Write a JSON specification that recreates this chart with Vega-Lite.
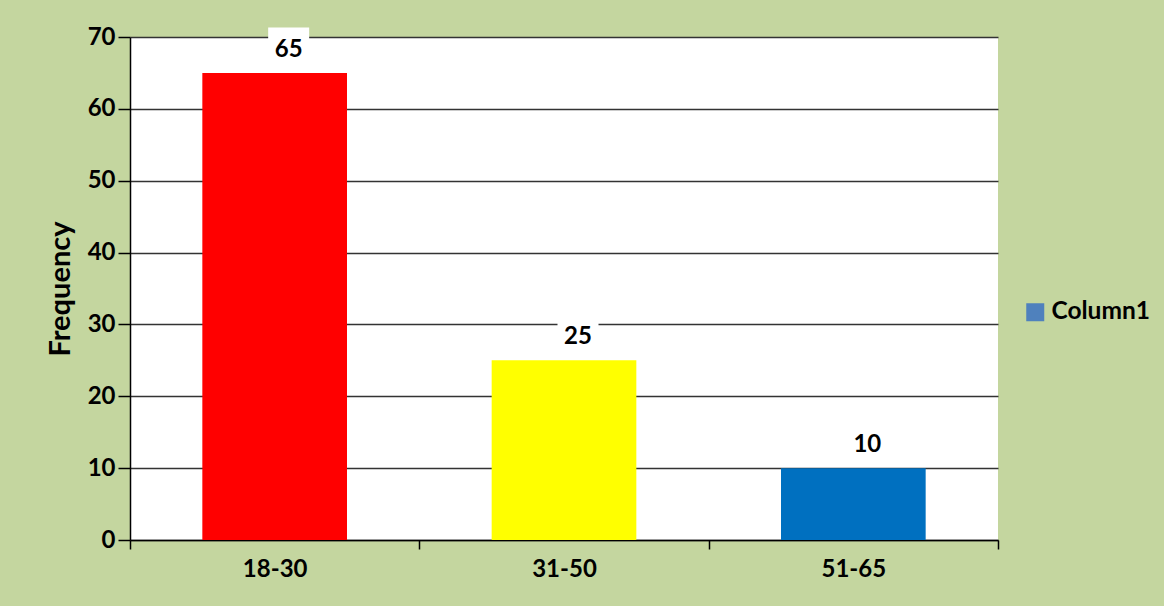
{
  "$schema": "https://vega.github.io/schema/vega-lite/v6.json",
  "autosize": "none",
  "width": 868,
  "height": 503,
  "padding": {"left": 130, "top": 37, "right": 166, "bottom": 66},
  "background": "#c4d69f",
  "config": {
    "view": {"fill": "#ffffff", "stroke": null},
    "font": "Lato"
  },
  "data": {
    "values": [
      {"age": "18-30", "frequency": 65, "series": "Column1"},
      {"age": "31-50", "frequency": 25, "series": "Column1"},
      {"age": "51-65", "frequency": 10, "series": "Column1"}
    ]
  },
  "encoding": {
    "x": {
      "field": "age",
      "type": "nominal",
      "sort": null,
      "scale": {"paddingInner": 0, "paddingOuter": 0},
      "axis": {
        "title": null,
        "labelAngle": 0,
        "labelFont": "Lato",
        "labelFontSize": 24,
        "labelFontWeight": "bold",
        "labelColor": "#000000",
        "labelPadding": 8,
        "tickBand": "extent",
        "tickSize": 9,
        "tickColor": "#000000",
        "tickWidth": 1.5,
        "domainColor": "#000000",
        "domainWidth": 1.5,
        "grid": false
      }
    }
  },
  "layer": [
    {
      "mark": {"type": "bar", "width": {"band": 0.5}},
      "encoding": {
        "y": {
          "field": "frequency",
          "type": "quantitative",
          "scale": {"domain": [0, 70]},
          "axis": {
            "title": "Frequency",
            "titleFont": "Lato",
            "titleFontSize": 29,
            "titleFontWeight": "bold",
            "titleColor": "#000000",
            "titlePadding": 12,
            "values": [0, 10, 20, 30, 40, 50, 60, 70],
            "labelFont": "Lato",
            "labelFontSize": 24,
            "labelFontWeight": "bold",
            "labelColor": "#000000",
            "labelPadding": 3,
            "tickSize": 12,
            "tickColor": "#000000",
            "tickWidth": 1.5,
            "domainColor": "#000000",
            "domainWidth": 1.5,
            "grid": true,
            "gridColor": "#333333",
            "gridWidth": 1.5
          }
        },
        "color": {
          "field": "age",
          "type": "nominal",
          "scale": {"domain": ["18-30", "31-50", "51-65"], "range": ["#ff0000", "#ffff00", "#0070c0"]},
          "legend": null
        }
      }
    },
    {
      "mark": {"type": "bar", "width": {"band": 0.5}, "strokeWidth": 0},
      "encoding": {
        "y": {"datum": 0, "type": "quantitative"},
        "color": {
          "field": "series",
          "type": "nominal",
          "scale": {"domain": ["Column1"], "range": ["#4f81bd"]},
          "legend": {
            "title": null,
            "orient": "none",
            "legendX": 893,
            "legendY": 263,
            "symbolType": "square",
            "symbolSize": 324,
            "symbolStrokeWidth": 0,
            "labelFont": "Lato",
            "labelFontSize": 24.5,
            "labelFontWeight": "bold",
            "labelColor": "#000000",
            "labelOffset": 4
          }
        }
      }
    },
    {
      "mark": {
        "type": "point",
        "shape": "M-1,-1H1V1H-1Z",
        "filled": true,
        "fill": "#ffffff",
        "opacity": 1,
        "size": 1681,
        "xOffset": 14,
        "yOffset": -25
      },
      "encoding": {
        "y": {"field": "frequency", "type": "quantitative"}
      }
    },
    {
      "mark": {
        "type": "text",
        "font": "Lato",
        "fontSize": 24,
        "fontWeight": "bold",
        "color": "#000000",
        "baseline": "middle",
        "xOffset": 14,
        "yOffset": -23
      },
      "encoding": {
        "y": {"field": "frequency", "type": "quantitative"},
        "text": {"field": "frequency", "type": "quantitative"}
      }
    }
  ],
  "resolve": {"scale": {"color": "independent"}, "legend": {"color": "independent"}}
}
